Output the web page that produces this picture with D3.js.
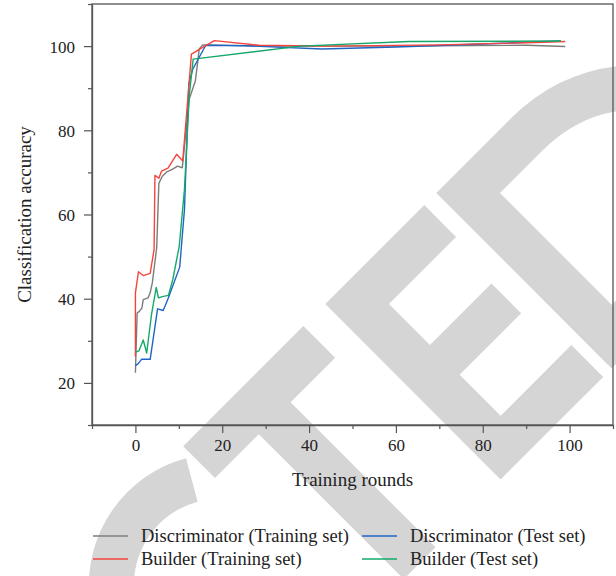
<!DOCTYPE html>
<html>
<head>
<meta charset="utf-8">
<script src="https://cdn.jsdelivr.net/npm/d3@7"></script>
<style>
  body { margin: 0; background: #fff; }
  svg text { font-family: "Liberation Serif", "DejaVu Serif", serif; fill: #222; }
</style>
</head>
<body>
<div id="chart"></div>
<script>
// series: [training round, accuracy]
const discTrain = [[0,22.4],[0.4,36.6],[0.9,37],[1.5,37.8],[1.8,39.8],[2.9,40.2],[3.4,41.4],[3.9,43.8],[4.9,52.1],[5.4,67.4],[6.2,69.1],[7.2,70.1],[8.5,70.7],[9.7,71.5],[10.8,71.1],[12.4,87.4],[13.8,91.7],[14.7,99.3],[15.5,100.3],[30,100],[60,100],[90,100.2],[99,99.9]];
const discTest = [[0,24.1],[0.6,24.5],[1.4,25.6],[2.4,25.6],[3.4,25.6],[5.1,37.6],[6.4,37.2],[7.6,40.2],[10.2,47.5],[11.3,61.2],[12.3,91],[13.2,94.5],[16.2,100.2],[25,100.1],[43,99.3],[60,99.8],[80,100.5],[98,101.2]];
const buildTrain = [[0,26.2],[0,41.4],[0.7,46.4],[1.8,45.5],[3.4,46],[4.3,51.7],[4.5,69.3],[5.4,68.6],[6.0,70.3],[7.5,71],[9.5,74.3],[10.9,72.7],[12.9,98.1],[15.5,99.7],[18.2,101.3],[28.5,100.2],[45,100],[70,100.3],[90,100.8],[99,101.1]];
const buildTest = [[0,27.3],[0.8,27.6],[1.8,30.2],[2.6,27.1],[3.7,36.2],[4.8,42.7],[5.3,40.2],[6.2,40.5],[7.6,40.8],[8.6,44.5],[10.1,52.5],[11.3,66],[12.4,88.2],[13.3,96.9],[38,100],[63,101.1],[98,101.2]];

const seriesNames = ["Discriminator (Training set)", "Discriminator (Test set)", "Builder (Training set)", "Builder (Test set)"];
const seriesColors = ["#7c7c7c", "#1f65c4", "#f2453d", "#15a86a"];
const seriesData = [discTrain, discTest, buildTrain, buildTest];

const xTicks = [0, 20, 40, 60, 80, 100];
const yTicks = [20, 40, 60, 80, 100];

const width = 616, height = 576;
const margin = { top: 4, right: 3, bottom: 151, left: 92 };

const svg = d3.select("#chart").append("svg")
    .attr("width", width)
    .attr("height", height);

const x = d3.scaleLinear()
    .domain([-10, 110])
    .range([margin.left, width - margin.right]);

const y = d3.scaleLinear()
    .domain([10, 110])
    .range([height - margin.bottom, margin.top]);

// background watermark (rotated letters "...CTED")
const wm = svg.append("g")
    .attr("transform", "rotate(-45)")
    .attr("fill", "#d5d5d5");
wm.append("path")
    .attr("transform", "translate(-258,569)")
    .attr("d", d3.arc().innerRadius(86).outerRadius(131)
        .startAngle(5 * Math.PI / 6).endAngle(13 * Math.PI / 6)());
wm.append("path")
    .attr("d", "M-186,445H-16V490H-79V695H-124V490H-186Z");
wm.append("path")
    .attr("transform", "translate(15,0)")
    .attr("d", "M0,445H140V490H45V548H132V590H45V648H145V693H0Z");
wm.append("path")
    .attr("fill-rule", "evenodd")
    .attr("d", "M172,445H278A154,124 0 0 1 278,693H172Z M217,490H278A109,79 0 0 1 278,648H217Z");

// frame
svg.append("rect")
    .attr("x", margin.left)
    .attr("y", margin.top)
    .attr("width", width - margin.right - margin.left)
    .attr("height", height - margin.bottom - margin.top)
    .attr("fill", "none")
    .attr("stroke", "#555")
    .attr("stroke-width", 1.3);

const xAxis = svg.append("g")
    .attr("transform", `translate(0,${height - margin.bottom})`)
    .call(d3.axisBottom(x).tickValues(d3.range(-10, 111, 10))
        .tickSize(0).tickFormat(""));
xAxis.selectAll(".tick line")
    .attr("y2", d => d % 20 === 0 ? 8 : 4);
xAxis.selectAll(".tick").filter(d => xTicks.includes(d)).append("text")
    .attr("y", 26)
    .attr("text-anchor", "middle")
    .style("font-size", "17px")
    .text(d => d);

const yAxis = svg.append("g")
    .attr("transform", `translate(${margin.left},0)`)
    .call(d3.axisLeft(y).tickValues(d3.range(10, 111, 10))
        .tickSize(0).tickFormat(""));
yAxis.selectAll(".tick line")
    .attr("x2", d => d % 20 === 0 ? -8 : -4);
yAxis.selectAll(".tick").filter(d => yTicks.includes(d)).append("text")
    .attr("x", -17)
    .attr("dy", "0.35em")
    .attr("text-anchor", "end")
    .style("font-size", "17px")
    .text(d => d);

svg.selectAll(".domain").attr("stroke", "#555").attr("stroke-width", 1.3);
svg.selectAll(".tick line").attr("stroke", "#555").attr("stroke-width", 1.2);

svg.append("text")
    .attr("x", x(50))
    .attr("y", 486)
    .attr("text-anchor", "middle")
    .style("font-size", "19px")
    .text("Training rounds");

svg.append("text")
    .attr("transform", `translate(31,${y(60)}) rotate(-90)`)
    .attr("text-anchor", "middle")
    .style("font-size", "19px")
    .text("Classification accuracy");

const line = d3.line()
    .x(d => x(d[0]))
    .y(d => y(d[1]));

svg.selectAll(".series")
    .data(seriesData)
    .enter().append("path")
    .attr("class", "series")
    .attr("d", line)
    .attr("fill", "none")
    .attr("stroke", (d, i) => seriesColors[i])
    .attr("stroke-width", 1.4)
    .attr("stroke-linejoin", "round");

// legend
const legendPos = [[93, 536], [362, 536], [93, 559], [362, 559]];
const legend = svg.selectAll(".legend")
    .data(seriesNames)
    .enter().append("g")
    .attr("class", "legend")
    .attr("transform", (d, i) => `translate(${legendPos[i][0]},${legendPos[i][1]})`);
legend.append("line")
    .attr("x1", 0).attr("x2", 35)
    .attr("stroke", (d, i) => seriesColors[i])
    .attr("stroke-width", 1.4);
legend.append("text")
    .attr("x", 48)
    .attr("dy", "0.35em")
    .style("font-size", "18.5px")
    .text(d => d);
</script>
</body>
</html>
